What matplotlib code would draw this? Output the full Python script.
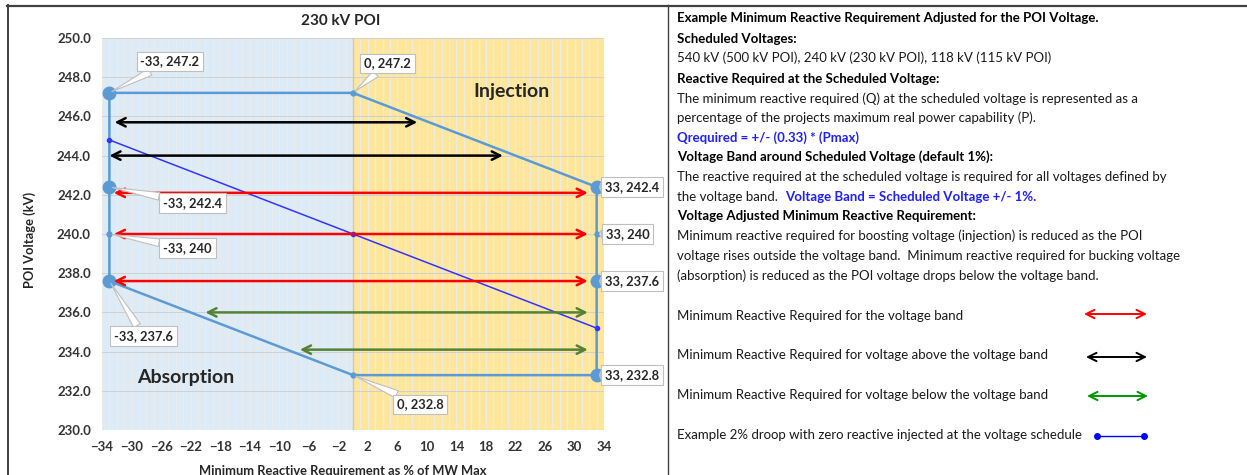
from matplotlib import pyplot as plt
import numpy as np

plt.rcParams['font.family'] = ['Lato', 'DejaVu Sans']

# Reactive capability envelope (Q in % of MW max, POI kV)
env_q = [-33, 0, 33, 33, 33, 33, 0, -33, -33, -33, -33]
env_v = [247.2, 247.2, 242.4, 240, 237.6, 232.8, 232.8, 237.6, 240, 242.4, 247.2]
big_q = [-33, -33, -33, 33, 33, 33]
big_v = [247.2, 242.4, 237.6, 242.4, 237.6, 232.8]
small_q = [0, -33, 33, 0]
small_v = [247.2, 240, 240, 232.8]

# Example 2% droop line
droop_q = [-33, 0, 33]
droop_v = [244.8, 240, 235.2]

# Requirement arrows: (kV, Q start, Q end)
band_arrows = [(242.1, -32.4, 31.8), (240.0, -32.4, 31.8), (237.6, -32.4, 31.8)]
above_arrows = [(245.7, -32.3, 8.7), (244.0, -33.0, 20.3)]
below_arrows = [(236.0, -20.0, 31.8), (234.1, -7.2, 31.8)]

# Point labels: (Q, kV, label Q, label kV)
labels = [
    (-33, 247.2, -24.8, 248.8),
    (0, 247.2, 4.7, 248.7),
    (33, 242.4, 37.8, 242.4),
    (33, 240, 37.2, 240.0),
    (33, 237.6, 37.8, 237.6),
    (33, 232.8, 37.8, 232.8),
    (0, 232.8, 9.1, 231.3),
    (-33, 242.4, -21.7, 241.6),
    (-33, 240, -22.4, 239.3),
    (-33, 237.6, -28.4, 234.8),
]

xticks = np.arange(-34, 35, 4)
yticks = np.arange(230, 251, 2)

fig = plt.figure(figsize=(12.47, 4.75), dpi=100)
ax = fig.add_axes([0.0818, 0.0947, 0.4026, 0.8253])

# Background zones
ax.axvspan(-34, 0, color='#DDEBF7', zorder=0)
ax.axvspan(0, 34, color='#FFE699', zorder=0)
for q in range(-34, 35):
    ax.axvline(q, color='#EBEBEB', lw=0.9, zorder=1)
for v in yticks:
    ax.axhline(v, color='#D0D0D0', lw=0.7, zorder=1)
ax.axvline(0, color='#C8C8C8', lw=1.0, zorder=1)

ax.set_xlim(-34, 34)
ax.set_ylim(230, 250)
ax.set_xticks(xticks)
ax.set_yticks(yticks)
ax.set_yticklabels(['%.1f' % v for v in yticks])
ax.tick_params(length=0, labelsize=9.5, labelcolor='#333333', pad=8)
for t in ax.get_xticklabels() + ax.get_yticklabels():
    t.set_fontweight('bold')
for s in ax.spines.values():
    s.set_visible(False)

# Envelope
ax.plot(env_q, env_v, color='#5B9BD5', lw=1.8, zorder=4)
ax.plot(big_q, big_v, 'o', color='#5B9BD5', ms=9, zorder=5)
ax.plot(small_q, small_v, 'o', color='#5B9BD5', ms=3.5, zorder=5)

# Droop
ax.plot(droop_q, droop_v, color='#3333FF', lw=1.1, marker='o', ms=3, zorder=4)

def arrows(items, color):
    for v, q0, q1 in items:
        ax.annotate('', xy=(q1, v), xytext=(q0, v),
                    arrowprops=dict(arrowstyle='<->,head_length=0.6,head_width=0.3',
                                    color=color, lw=1.8, shrinkA=0, shrinkB=0),
                    zorder=6)

arrows(band_arrows, '#FF0000')
arrows(above_arrows, '#000000')
arrows(below_arrows, '#548235')

for q, v, lq, lv in labels:
    ax.annotate('%g, %g' % (q, v), xy=(q, v), xytext=(lq, lv),
                ha='center', va='center', fontsize=9.3, fontweight='bold',
                color='#262626', annotation_clip=False, zorder=8,
                bbox=dict(boxstyle='square,pad=0.3', fc='white', ec='#BFBFBF', lw=0.8),
                arrowprops=dict(arrowstyle='wedge,tail_width=0.6', fc='white',
                                ec='#BFBFBF', lw=0.8, shrinkA=0, shrinkB=2))

ax.text(21.4, 247.25, 'Injection', fontsize=14, fontweight='bold', color='#262626',
        ha='center', va='center', zorder=7)
ax.text(-22.6, 232.7, 'Absorption', fontsize=14, fontweight='bold', color='#262626',
        ha='center', va='center', zorder=7)

# Overlay in pixel coordinates for frame and text panel
ov = fig.add_axes([0, 0, 1, 1], zorder=10)
ov.set_xlim(0, 1247)
ov.set_ylim(475, 0)
ov.axis('off')
ov.patch.set_visible(False)

ov.plot([7, 1247], [5.5, 5.5], color='#404040', lw=1.6)
ov.plot([7.5, 7.5], [5, 475], color='#404040', lw=1.4)
ov.plot([668, 668], [5, 475], color='#404040', lw=1.0)

ov.text(341, 21, '230 kV POI', fontsize=11, fontweight='bold', color='#262626',
        ha='center', va='center')
ov.text(30, 240, 'POI Voltage (kV)', fontsize=9.3, fontweight='bold', color='#262626',
        ha='center', va='center', rotation=90)
ov.text(343, 471, 'Minimum Reactive Requirement as % of MW Max', fontsize=9.3,
        fontweight='bold', color='#262626', ha='center', va='center')

lines = [
    (18, 'Example Minimum Reactive Requirement Adjusted for the POI Voltage.', 'bold', '#000000'),
    (39, 'Scheduled Voltages:', 'bold', '#000000'),
    (58, '540 kV (500 kV POI), 240 kV (230 kV POI), 118 kV (115 kV POI)', 'normal', '#1A1A1A'),
    (79, 'Reactive Required at the Scheduled Voltage:', 'bold', '#000000'),
    (99, 'The minimum reactive required (Q) at the scheduled voltage is represented as a', 'normal', '#1A1A1A'),
    (118, 'percentage of the projects maximum real power capability (P).', 'normal', '#1A1A1A'),
    (138, 'Qrequired = +/- (0.33) * (Pmax)', 'bold', '#1F1FFF'),
    (157, 'Voltage Band around Scheduled Voltage (default 1%):', 'bold', '#000000'),
    (177, 'The reactive required at the scheduled voltage is required for all voltages defined by', 'normal', '#1A1A1A'),
    (216, 'Voltage Adjusted Minimum Reactive Requirement:', 'bold', '#000000'),
    (236, 'Minimum reactive required for boosting voltage (injection) is reduced as the POI', 'normal', '#1A1A1A'),
    (256, 'voltage rises outside the voltage band.  Minimum reactive required for bucking voltage', 'normal', '#1A1A1A'),
    (276, '(absorption) is reduced as the POI voltage drops below the voltage band.', 'normal', '#1A1A1A'),
    (316, 'Minimum Reactive Required for the voltage band', 'normal', '#1A1A1A'),
    (355, 'Minimum Reactive Required for voltage above the voltage band', 'normal', '#1A1A1A'),
    (395, 'Minimum Reactive Required for voltage below the voltage band', 'normal', '#1A1A1A'),
    (435, 'Example 2% droop with zero reactive injected at the voltage schedule', 'normal', '#1A1A1A'),
]
for y, s, w, c in lines:
    ov.text(677, y, s, fontsize=9.5, fontweight=w, color=c, ha='left', va='center')

t1 = ov.text(677, 197, 'the voltage band.  ', fontsize=9.5, color='#1A1A1A', ha='left', va='center')
ov.annotate('Voltage Band = Scheduled Voltage +/- 1%.', xy=(1, 0), xycoords=t1,
            fontsize=9.5, fontweight='bold', color='#1F1FFF', ha='left', va='bottom')

# Legend samples
ov.annotate('', xy=(1147, 314), xytext=(1084, 314),
            arrowprops=dict(arrowstyle='<->,head_length=0.6,head_width=0.3', color='#FF0000', lw=1.4,
                            shrinkA=0, shrinkB=0))
ov.annotate('', xy=(1147, 357), xytext=(1086, 357),
            arrowprops=dict(arrowstyle='<->,head_length=0.6,head_width=0.3', color='#000000', lw=1.4,
                            shrinkA=0, shrinkB=0))
ov.annotate('', xy=(1148, 396), xytext=(1087, 396),
            arrowprops=dict(arrowstyle='<->,head_length=0.6,head_width=0.3', color='#009900', lw=1.4,
                            shrinkA=0, shrinkB=0))
ov.plot([1097, 1144], [436, 436], color='#0000FF', lw=1, marker='o', ms=4)

fig.savefig('out.png', dpi=100)
